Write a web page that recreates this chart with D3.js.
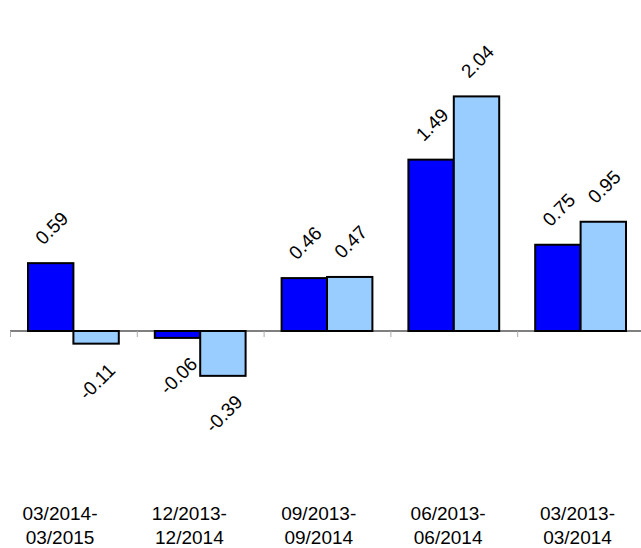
<!DOCTYPE html>
<html>
<head>
<meta charset="utf-8">
<script src="https://cdn.jsdelivr.net/npm/d3@7"></script>
<style>
  html, body { margin: 0; padding: 0; background: #fff; }
  svg { display: block; font-family: "Liberation Sans", Arial, sans-serif; }
</style>
</head>
<body>
<div id="chart"></div>
<script>
const categories = [
  ["03/2014-", "03/2015"],
  ["12/2013-", "12/2014"],
  ["09/2013-", "09/2014"],
  ["06/2013-", "06/2014"],
  ["03/2013-", "03/2014"]
];
const seriesNames = ["a", "b"];
const seriesA = [0.59, -0.06, 0.46, 1.49, 0.75];
const seriesB = [-0.11, -0.39, 0.47, 2.04, 0.95];
const seriesColors = ["#0000ff", "#99ccff"];

const width = 641, height = 548;

const svg = d3.select("#chart").append("svg")
  .attr("width", width).attr("height", height);

const keys = categories.map(d => d.join(""));

const x0 = d3.scaleBand().domain(keys).range([10, 644]).padding(0);
const x1 = d3.scaleBand().domain(seriesNames)
  .range([18, x0.bandwidth() - 18]).padding(0);
const y = d3.scaleLinear().domain([-0.5, 2.5]).range([388.5, 43.5]);

// label row sits on its own spacing
const xl = d3.scalePoint().domain(keys).range([60, 577.5]);

const rows = keys.map((k, i) => ({
  key: k,
  values: [seriesA[i], seriesB[i]]
}));

// axis line at zero
svg.append("line")
  .attr("x1", 10).attr("x2", width)
  .attr("y1", y(0)).attr("y2", y(0))
  .attr("stroke", "#000").attr("stroke-width", 1);

// ticks at band boundaries
svg.append("g").selectAll("line")
  .data(keys)
  .join("line")
  .attr("x1", d => x0(d) + 0.5).attr("x2", d => x0(d) + 0.5)
  .attr("y1", y(0)).attr("y2", y(0) + 6)
  .attr("stroke", "#aaa").attr("stroke-width", 1);

const groups = svg.append("g").selectAll("g")
  .data(rows)
  .join("g")
  .attr("transform", d => `translate(${x0(d.key)},0)`);

groups.selectAll("rect")
  .data(d => d.values.map((v, j) => ({ name: seriesNames[j], value: v, j })))
  .join("rect")
  .attr("x", d => x1(d.name))
  .attr("width", x1.bandwidth())
  .attr("y", d => y(Math.max(0, d.value)))
  .attr("height", d => Math.abs(y(d.value) - y(0)))
  .attr("fill", d => seriesColors[d.j])
  .attr("stroke", "#000")
  .attr("stroke-width", 2);

groups.selectAll("text")
  .data(d => d.values.map((v, j) => ({ name: seriesNames[j], value: v })))
  .join("text")
  .attr("transform", d => {
    const cx = x1(d.name) + x1.bandwidth() / 2 + 1;
    const cy = d.value >= 0 ? y(d.value) - 35 : y(d.value) + 38;
    return `translate(${cx},${cy}) rotate(-45)`;
  })
  .attr("text-anchor", "middle")
  .attr("dominant-baseline", "central")
  .attr("font-size", 19)
  .attr("fill", "#000")
  .text(d => d.value.toFixed(2));

// category labels
const lab = svg.append("g").selectAll("text")
  .data(categories)
  .join("text")
  .attr("x", (d, i) => xl(keys[i]))
  .attr("y", 520)
  .attr("text-anchor", "middle")
  .attr("font-size", 19)
  .attr("fill", "#000");

lab.selectAll("tspan")
  .data(d => d)
  .join("tspan")
  .attr("x", function() { return this.parentNode.getAttribute("x"); })
  .attr("dy", (d, i) => i === 0 ? 0 : 24)
  .text(d => d);
</script>
</body>
</html>
